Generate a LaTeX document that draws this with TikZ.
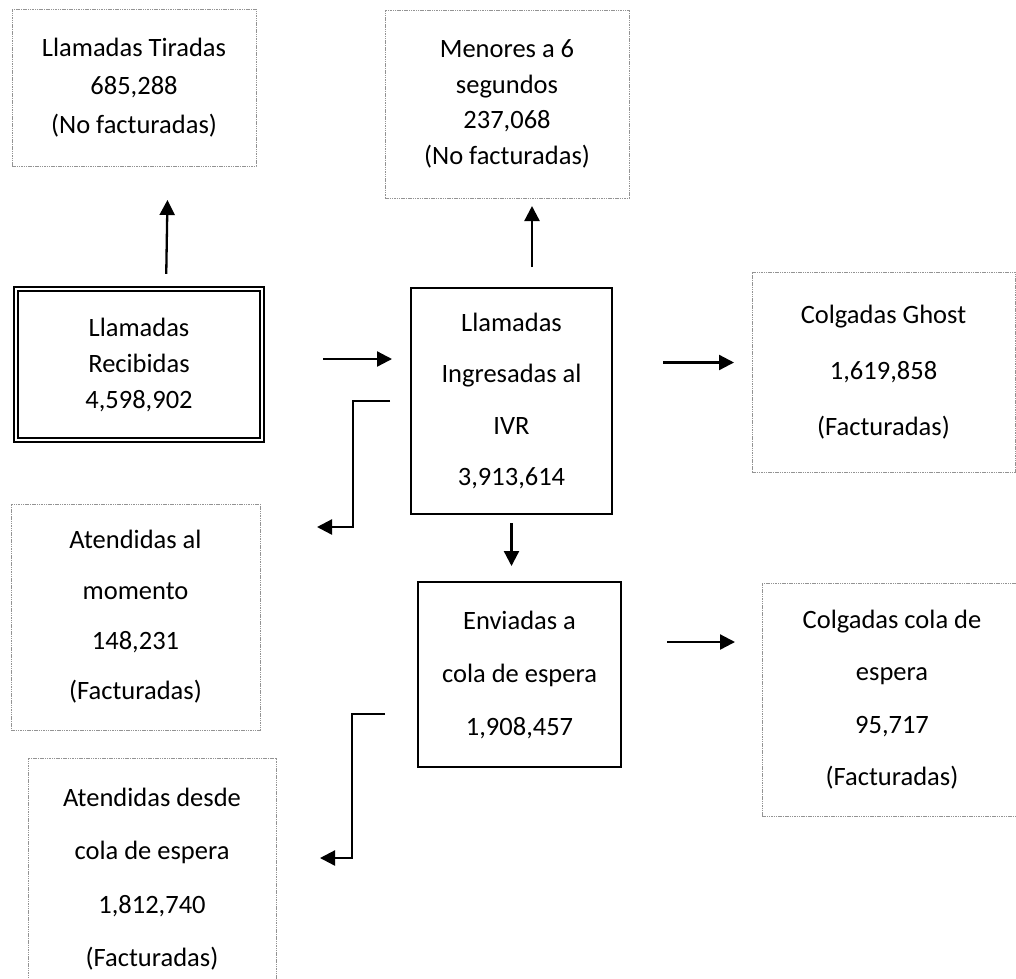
\documentclass[tikz,border=0pt]{standalone}
\usepackage{fontspec}
\setmainfont{Carlito}
\usetikzlibrary{arrows.meta}

\begin{document}
\begin{tikzpicture}[x=1pt, y=-1pt,
        every node/.style={inner sep=0pt, outer sep=0pt, align=center},
        plain box/.style={draw, line width=2pt},
        note box/.style={draw=gray!85, line width=0.9pt, dash pattern=on 1.5pt off 0.8pt},
        lines/.style={font=\fontsize{26.5}{#1}\selectfont},
        flow/.style={-{Triangle[length=15pt, width=15pt]}, line width=2.3pt}]
        \useasboundingbox (0,0) rectangle (1016,978);

        \node[note box, lines=38.5, minimum width=244, minimum height=157] (tiradas)  at (134,87.5)  {Llamadas Tiradas\\685,288\\(No facturadas)};
        \node[note box, lines=35.5, minimum width=244, minimum height=188] (menores)  at (507,104)   {Menores a 6\\segundos\\237,068\\(No facturadas)};
        \node[draw, double, double distance=2pt, line width=1.8pt, lines=36,
              minimum width=246.4, minimum height=151.4]                 (recibidas) at (139,364.5) {Llamadas\\Recibidas\\4,598,902};
        \node[plain box, lines=51.3, minimum width=201, minimum height=226] (ivr)      at (511.5,401) {Llamadas\\Ingresadas al\\IVR\\3,913,614};
        \node[note box, lines=56, minimum width=263, minimum height=200]   (ghost)    at (883.5,372) {Colgadas Ghost\\1,619,858\\(Facturadas)};
        \node[note box, lines=50.3, minimum width=249, minimum height=226] (momento)  at (135.5,617) {Atendidas al\\momento\\148,231\\(Facturadas)};
        \node[plain box, lines=53, minimum width=203, minimum height=185]   (enviadas) at (519.5,674.5) {Enviadas a\\cola de espera\\1,908,457};
        \node[note box, lines=52.3, minimum width=260, minimum height=233] (colgadas) at (892,699.5) {Colgadas cola de\\espera\\95,717\\(Facturadas)};
        \node[note box, lines=53.3, minimum width=248, minimum height=242] (desde)    at (152,879)   {Atendidas desde\\cola de espera\\1,812,740\\(Facturadas)};

        \coordinate (turn 1) at (353,527);
        \coordinate (end 1)  at (317,527);
        \coordinate (turn 2) at (352,858);
        \coordinate (end 2)  at (320,858);

        \draw[flow, shorten <=15pt, shorten >=34pt] ([xshift=27pt]recibidas.north) -- ([xshift=34pt]tiradas.south);
        \draw[flow, shorten <=21pt, shorten >=8pt]  ([xshift=20.5pt]ivr.north) -- ([xshift=25pt]menores.south);
        \draw[flow, shorten <=61pt, shorten >=19pt] ([yshift=5.5pt]recibidas.east) -- ([yshift=5.5pt]recibidas.east -| ivr.west);
        \draw[flow, shorten <=51pt, shorten >=18pt] ([yshift=9.5pt]ghost.west -| ivr.east) -- ([yshift=9.5pt]ghost.west);
        \draw[flow, shorten <=21pt] (ivr.west) -| (turn 1) -- (end 1);
        \draw[flow, shorten <=9pt, shorten >=16pt]  (ivr.south) -- (ivr.south |- enviadas.north);
        \draw[flow, shorten <=46pt, shorten >=27pt] ([yshift=57.5pt]colgadas.west -| enviadas.east) -- ([yshift=57.5pt]colgadas.west);
        \draw[flow, shorten <=33pt] ([yshift=-39.5pt]enviadas.west) -| (turn 2) -- (end 2);
    \end{tikzpicture}
\end{document}
